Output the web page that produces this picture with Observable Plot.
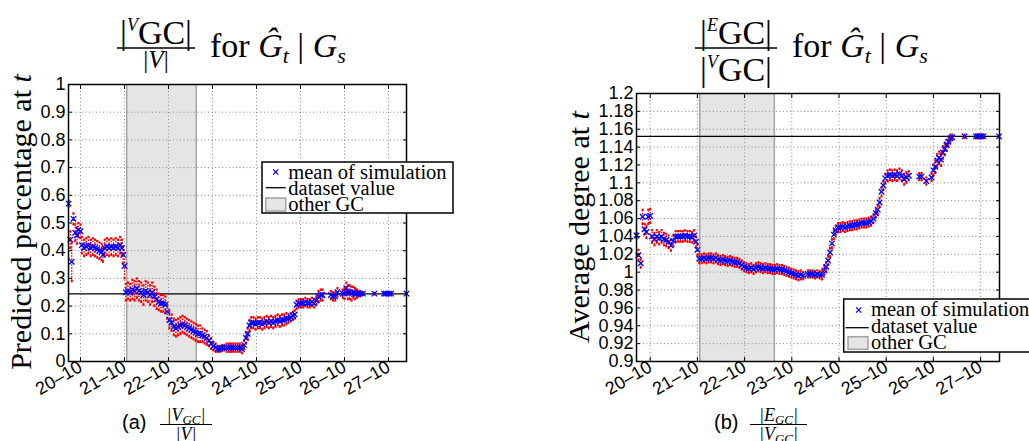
<!DOCTYPE html>
<html><head><meta charset="utf-8">
<script src="https://cdn.jsdelivr.net/npm/d3@7"></script>
<script src="https://cdn.jsdelivr.net/npm/@observablehq/plot@0.6"></script>
<style>
html,body{margin:0;padding:0;background:#fff;}
body{width:1029px;height:441px;overflow:hidden;}
#fig{position:relative;width:1029px;height:441px;overflow:hidden;}
#fig > svg{position:absolute;top:0;}
#overlay{position:absolute;left:0;top:0;pointer-events:none;}
</style></head><body><div id="fig"></div>
<script>
// ---------- data ----------
const dayTicks  = [20, 21, 22, 23, 24, 25, 26, 27];
const dayLabels = ["20–10","21–10","22–10","23–10","24–10","25–10","26–10","27–10"];
const yTicksA = [0, 0.1, 0.2, 0.3, 0.4, 0.5, 0.6, 0.7, 0.8, 0.9, 1];
const yTicksB = [0.9, 0.92, 0.94, 0.96, 0.98, 1, 1.02, 1.04, 1.06, 1.08, 1.1, 1.12, 1.14, 1.16, 1.18, 1.2];
const otherGC = [21.05, 22.63];
const datasetA = 0.244;
const datasetB = 1.152;

// (a) |V_GC|/|V| : time (day of Oct), mean of simulation, spread
const timeA = [
 19.73,19.77,19.80,19.84,19.88,19.92,19.95,20.00,20.03,20.08,
 20.13,20.18,20.23,20.28,20.33,20.38,20.43,20.48,20.51,20.55,
 20.60,20.65,20.70,20.75,20.80,20.85,20.90,20.94,20.97,21.00,
 21.03,21.08,21.13,21.18,21.23,21.28,21.33,21.38,21.43,21.48,
 21.53,21.58,21.63,21.68,21.73,21.78,21.83,21.88,21.93,21.97,
 22.02,22.07,22.12,22.17,22.22,22.27,22.32,22.37,22.42,22.47,
 22.52,22.57,22.62,22.67,22.72,22.77,22.82,22.87,22.92,22.97,
 23.02,23.07,23.12,23.17,23.22,23.27,23.32,23.37,23.42,23.47,
 23.52,23.57,23.62,23.67,23.72,23.76,23.80,23.84,23.88,23.93,
 23.98,24.03,24.08,24.13,24.18,24.23,24.28,24.33,24.38,24.43,
 24.48,24.53,24.58,24.63,24.68,24.73,24.78,24.83,24.87,24.91,
 24.96,25.01,25.06,25.11,25.16,25.21,25.26,25.31,25.36,25.41,
 25.46,25.50,25.69,25.74,25.79,25.84,25.96,26.00,26.04,26.08,
 26.12,26.16,26.20,26.24,26.28,26.32,26.36,26.42,26.68,26.90,
 26.94,26.98,27.02,27.06,27.41];
const meanA = [
 0.57,0.44,0.36,0.515,0.465,0.455,0.475,0.47,0.42,0.41,
 0.415,0.42,0.41,0.415,0.41,0.405,0.40,0.395,0.385,0.41,
 0.415,0.41,0.415,0.41,0.415,0.41,0.42,0.41,0.385,0.345,
 0.25,0.255,0.25,0.26,0.255,0.265,0.255,0.25,0.24,0.255,
 0.25,0.24,0.25,0.235,0.225,0.215,0.21,0.21,0.205,0.18,
 0.15,0.14,0.125,0.12,0.125,0.13,0.135,0.13,0.125,0.12,
 0.115,0.11,0.105,0.10,0.10,0.095,0.09,0.085,0.075,0.065,
 0.055,0.05,0.045,0.045,0.05,0.05,0.05,0.05,0.05,0.05,
 0.05,0.05,0.05,0.045,0.06,0.085,0.10,0.13,0.14,0.14,
 0.135,0.14,0.14,0.135,0.14,0.145,0.14,0.145,0.14,0.145,
 0.15,0.145,0.15,0.15,0.155,0.155,0.16,0.165,0.17,0.205,
 0.21,0.21,0.21,0.215,0.21,0.21,0.215,0.21,0.22,0.235,
 0.24,0.24,0.24,0.235,0.235,0.25,0.245,0.245,0.265,0.25,
 0.25,0.245,0.25,0.245,0.245,0.245,0.245,0.245,0.245,0.245,
 0.245,0.245,0.245,0.245,0.245];
const spreadA = [
 0.01,0.03,0.07,0.02,0.03,0.03,0.025,0.025,0.03,0.03,
 0.03,0.03,0.03,0.03,0.03,0.03,0.03,0.03,0.025,0.03,
 0.03,0.03,0.03,0.03,0.03,0.03,0.03,0.03,0.03,0.045,
 0.03,0.03,0.03,0.035,0.035,0.035,0.035,0.035,0.035,0.035,
 0.035,0.035,0.035,0.035,0.035,0.03,0.03,0.03,0.03,0.025,
 0.03,0.03,0.03,0.03,0.03,0.03,0.03,0.03,0.03,0.03,
 0.03,0.03,0.03,0.03,0.03,0.025,0.025,0.025,0.02,0.02,
 0.015,0.015,0.01,0.01,0.01,0.01,0.015,0.015,0.015,0.015,
 0.015,0.015,0.015,0.015,0.015,0.02,0.02,0.02,0.02,0.02,
 0.02,0.02,0.02,0.02,0.02,0.02,0.02,0.02,0.02,0.02,
 0.02,0.02,0.02,0.02,0.02,0.015,0.015,0.015,0.015,0.015,
 0.015,0.015,0.015,0.015,0.015,0.015,0.015,0.015,0.015,0.02,
 0.02,0.02,0.015,0.015,0.015,0.015,0.015,0.02,0.02,0.025,
 0.025,0.025,0.02,0.02,0.015,0.01,0.01,0.005,0.003,0.003,
 0.003,0.003,0.003,0.003,0.002];

// (b) |E_GC|/|V_GC|
const timeB = [
 19.71,19.75,19.80,19.84,19.88,19.92,19.96,20.00,20.04,20.09,
 20.14,20.19,20.24,20.29,20.34,20.39,20.44,20.49,20.54,20.59,
 20.64,20.69,20.74,20.79,20.84,20.89,20.93,20.97,21.00,21.04,
 21.09,21.14,21.19,21.24,21.29,21.34,21.39,21.44,21.49,21.54,
 21.59,21.64,21.69,21.74,21.79,21.84,21.89,21.94,21.99,22.04,
 22.09,22.14,22.19,22.24,22.29,22.34,22.39,22.44,22.49,22.54,
 22.59,22.64,22.69,22.74,22.79,22.84,22.89,22.94,22.99,23.04,
 23.09,23.14,23.19,23.24,23.34,23.39,23.44,23.49,23.54,23.59,
 23.64,23.69,23.73,23.77,23.81,23.85,23.89,23.93,23.98,24.03,
 24.08,24.13,24.18,24.23,24.28,24.33,24.38,24.43,24.48,24.53,
 24.58,24.63,24.68,24.73,24.78,24.82,24.86,24.90,24.94,24.98,
 25.03,25.08,25.13,25.18,25.23,25.28,25.33,25.38,25.43,25.48,
 25.70,25.75,25.85,25.96,26.00,26.04,26.08,26.12,26.16,26.20,
 26.24,26.28,26.32,26.36,26.40,26.66,26.90,26.94,26.98,27.02,
 27.06,27.39];
const meanB = [
 1.041,1.019,1.010,1.062,1.048,1.045,1.062,1.063,1.040,1.037,
 1.040,1.038,1.040,1.037,1.036,1.034,1.030,1.035,1.040,1.040,
 1.040,1.040,1.041,1.040,1.040,1.039,1.041,1.034,1.025,1.015,
 1.015,1.016,1.015,1.016,1.016,1.015,1.016,1.014,1.013,1.014,
 1.013,1.012,1.013,1.012,1.011,1.011,1.010,1.008,1.006,1.005,
 1.004,1.005,1.003,1.005,1.006,1.005,1.004,1.005,1.004,1.004,
 1.003,1.003,1.004,1.003,1.003,1.002,1.001,1.000,0.999,0.998,
 0.997,0.996,0.997,0.996,0.998,0.998,0.998,0.997,0.998,0.997,
 0.997,1.002,1.006,1.013,1.022,1.032,1.042,1.047,1.050,1.050,
 1.051,1.050,1.051,1.052,1.052,1.053,1.053,1.054,1.055,1.055,
 1.055,1.056,1.057,1.060,1.066,1.070,1.078,1.090,1.097,1.105,
 1.108,1.109,1.108,1.109,1.108,1.110,1.108,1.104,1.106,1.108,
 1.107,1.107,1.102,1.106,1.114,1.118,1.125,1.128,1.126,1.134,
 1.138,1.142,1.146,1.150,1.151,1.152,1.152,1.152,1.152,1.152,
 1.152,1.152];
const spreadB = [
 0.003,0.006,0.005,0.008,0.006,0.007,0.008,0.008,0.007,0.007,
 0.007,0.007,0.007,0.007,0.007,0.007,0.006,0.006,0.006,0.006,
 0.006,0.006,0.006,0.006,0.006,0.006,0.006,0.006,0.006,0.005,
 0.005,0.005,0.005,0.005,0.005,0.005,0.005,0.005,0.005,0.005,
 0.005,0.005,0.005,0.005,0.005,0.005,0.005,0.005,0.005,0.005,
 0.005,0.005,0.005,0.005,0.005,0.005,0.005,0.005,0.005,0.005,
 0.005,0.005,0.005,0.005,0.005,0.005,0.005,0.005,0.005,0.005,
 0.005,0.005,0.005,0.004,0.004,0.004,0.004,0.004,0.004,0.004,
 0.005,0.005,0.005,0.005,0.005,0.005,0.005,0.005,0.005,0.005,
 0.005,0.005,0.005,0.005,0.005,0.005,0.005,0.005,0.005,0.005,
 0.005,0.005,0.005,0.005,0.005,0.005,0.005,0.005,0.005,0.005,
 0.006,0.006,0.006,0.006,0.006,0.006,0.006,0.006,0.006,0.005,
 0.004,0.004,0.004,0.004,0.006,0.007,0.007,0.007,0.007,0.007,
 0.007,0.006,0.005,0.004,0.003,0.002,0.002,0.002,0.002,0.002,
 0.002,0.001];

// ---------- drawing ----------
const fmtDay = d => dayLabels[dayTicks.indexOf(d)];
function panel(o) {
  const rows = o.t.map((t, i) => ({t, m: o.m[i], lo: o.m[i] - o.e[i], hi: o.m[i] + o.e[i]}));
  const grid = {stroke: "#8a8a8a", strokeOpacity: 1, strokeWidth: 1, strokeDasharray: "1,2.5"};
  return Plot.plot({
    width: o.width, height: 441,
    marginLeft: o.ml, marginRight: o.mr, marginTop: o.mt, marginBottom: 80,
    style: {fontFamily: '"Liberation Sans", Arial, sans-serif', fontSize: "18px", background: "transparent", overflow: "visible", color: "black"},
    x: {domain: o.xd},
    y: {domain: o.yd},
    marks: [
      Plot.rect([o.shade], {x1: d => d[0], x2: d => d[1], y1: o.yd[0], y2: o.yd[1], fill: "#e5e5e5"}),
      Plot.ruleX(o.shade, {stroke: "#a3a3a3", strokeWidth: 1.5}),
      Plot.gridX(dayTicks, grid),
      Plot.gridY(o.yt, grid),
      Plot.ruleY([o.ds], {stroke: "black", strokeWidth: 1.3}),
      Plot.ruleX(rows, {x: "t", y1: "lo", y2: "hi", stroke: "red", strokeWidth: 1.4, strokeDasharray: "1.5,1.5"}),
      Plot.dot(rows, {x: "t", y: "lo", symbol: "square", r: 1.2, fill: "red"}),
      Plot.dot(rows, {x: "t", y: "hi", symbol: "square", r: 1.2, fill: "red"}),
      Plot.dot(rows, {x: "t", y: "m", symbol: "times", r: 2.6, stroke: "blue", strokeWidth: 1.3}),
      Plot.axisX(dayTicks, {anchor: "bottom", tickSize: -4, tickPadding: 8, tickRotate: -30, tickFormat: fmtDay, label: null}),
      Plot.axisX(dayTicks, {anchor: "top", tickSize: -4, tickFormat: () => "", label: null}),
      Plot.axisY(o.yt, {anchor: "left", tickSize: -4, tickPadding: 7, tickFormat: o.fy, label: null}),
      Plot.axisY(o.yt, {anchor: "right", tickSize: -4, tickFormat: () => "", label: null}),
      Plot.frame({stroke: "black", strokeWidth: 1.5})
    ]
  });
}

const fig = document.getElementById("fig");
const pa = panel({t: timeA, m: meanA, e: spreadA, yt: yTicksA, yd: [0, 1], xd: [19.727, 27.409],
  shade: otherGC, ds: datasetA, width: 512, ml: 68, mr: 106, mt: 84, fy: d => String(+d.toFixed(1))});
pa.style.left = "0px";
fig.appendChild(pa);
const pb = panel({t: timeB, m: meanB, e: spreadB, yt: yTicksB, yd: [0.9, 1.2], xd: [19.71, 27.40],
  shade: otherGC, ds: datasetB, width: 517, ml: 124, mr: 30, mt: 93, fy: d => String(+d.toFixed(2))});
pb.style.left = "512px";
fig.appendChild(pb);

// ---------- titles, labels, legends, captions ----------
const S = '"Liberation Serif", "Times New Roman", serif';
const A = '"Liberation Sans", Arial, sans-serif';
function legend(x, y, w, h, rows) {
  const [b1, b2, b3] = rows;
  return `<g>
    <rect x="${x}" y="${y}" width="${w}" height="${h}" fill="white" stroke="black" stroke-width="1.5"/>
    <g stroke="blue" stroke-width="1.3"><line x1="${b1.sx-2.6}" y1="${b1.sy-2.6}" x2="${b1.sx+2.6}" y2="${b1.sy+2.6}"/><line x1="${b1.sx-2.6}" y1="${b1.sy+2.6}" x2="${b1.sx+2.6}" y2="${b1.sy-2.6}"/></g>
    <line x1="${b2.x1}" x2="${b2.x2}" y1="${b2.sy}" y2="${b2.sy}" stroke="black" stroke-width="1.3"/>
    <rect x="${b3.x1}" y="${b3.y1}" width="${b3.x2-b3.x1}" height="${b3.y2-b3.y1}" fill="#e5e5e5" stroke="#a3a3a3" stroke-width="1.5"/>
    <g font-family='${S}' font-size="20.5" fill="black">
      <text x="${b1.tx}" y="${b1.by}">mean of simulation</text>
      <text x="${b1.tx}" y="${b2.by}">dataset value</text>
      <text x="${b1.tx}" y="${b3.by}">other GC</text>
    </g></g>`;
}
const ov = `<svg id="overlay" width="1029" height="441" xmlns="http://www.w3.org/2000/svg">
 <g font-family='${S}' fill="black">
  <text x="156" y="44" font-size="34" text-anchor="middle">|<tspan font-size="18" font-style="italic" dy="-13">V</tspan><tspan dy="13">GC|</tspan></text>
  <line x1="117" x2="195" y1="48" y2="48" stroke="black" stroke-width="1.6"/>
  <text x="156" y="68" font-size="25" text-anchor="middle">|<tspan font-style="italic">V</tspan>|</text>
  <text x="210" y="57" font-size="34">for <tspan font-style="italic">Ĝ</tspan><tspan font-size="22" font-style="italic" dy="6">t</tspan><tspan dy="-6">  |  </tspan><tspan font-style="italic">G</tspan><tspan font-size="22" font-style="italic" dy="6">s</tspan></text>

  <text x="736" y="44" font-size="34" text-anchor="middle">|<tspan font-size="18" font-style="italic" dy="-13">E</tspan><tspan dy="13">GC|</tspan></text>
  <line x1="695" x2="777" y1="48" y2="48" stroke="black" stroke-width="1.6"/>
  <text x="736" y="81" font-size="34" text-anchor="middle">|<tspan font-size="18" font-style="italic" dy="-13">V</tspan><tspan dy="13">GC|</tspan></text>
  <text x="792" y="57" font-size="34">for <tspan font-style="italic">Ĝ</tspan><tspan font-size="22" font-style="italic" dy="6">t</tspan><tspan dy="-6">  |  </tspan><tspan font-style="italic">G</tspan><tspan font-size="22" font-style="italic" dy="6">s</tspan></text>

  <text transform="translate(31,222) rotate(-90)" font-size="30" text-anchor="middle">Predicted percentage at <tspan font-style="italic">t</tspan></text>
  <text transform="translate(589,227) rotate(-90)" font-size="30" text-anchor="middle">Average degree at <tspan font-style="italic">t</tspan></text>

  <text x="122" y="429" font-family='${A}' font-size="20">(a)</text>
  <text x="186" y="421" font-size="18" text-anchor="middle" font-style="italic">|V<tspan font-size="13" dy="3">GC</tspan><tspan dy="-3">|</tspan></text>
  <line x1="160" x2="212" y1="424.5" y2="424.5" stroke="black" stroke-width="1"/>
  <text x="186" y="440" font-size="18" text-anchor="middle" font-style="italic">|V|</text>

  <text x="714" y="429" font-family='${A}' font-size="20">(b)</text>
  <text x="778.5" y="421" font-size="18" text-anchor="middle" font-style="italic">|E<tspan font-size="13" dy="3">GC</tspan><tspan dy="-3">|</tspan></text>
  <line x1="750" x2="807" y1="424.5" y2="424.5" stroke="black" stroke-width="1"/>
  <text x="778.5" y="440" font-size="18" text-anchor="middle" font-style="italic">|V<tspan font-size="13" dy="3">GC</tspan><tspan dy="-3">|</tspan></text>
 </g>
 ${legend(262, 162, 191, 51, [
    {sx: 275.7, sy: 172, tx: 288.3, by: 178.5},
    {x1: 265.7, x2: 285.7, sy: 187.7, by: 194.5},
    {x1: 265.7, x2: 285.7, y1: 198, y2: 211, by: 211}])}
 ${legend(843.7, 299, 200, 53, [
    {sx: 858.7, sy: 310, tx: 871, by: 316},
    {x1: 845.5, x2: 868.7, sy: 327.7, by: 333.3},
    {x1: 848, x2: 868, y1: 336.7, y2: 349.3, by: 349.3}])}
</svg>`;
fig.insertAdjacentHTML("beforeend", ov);
</script></body></html>
